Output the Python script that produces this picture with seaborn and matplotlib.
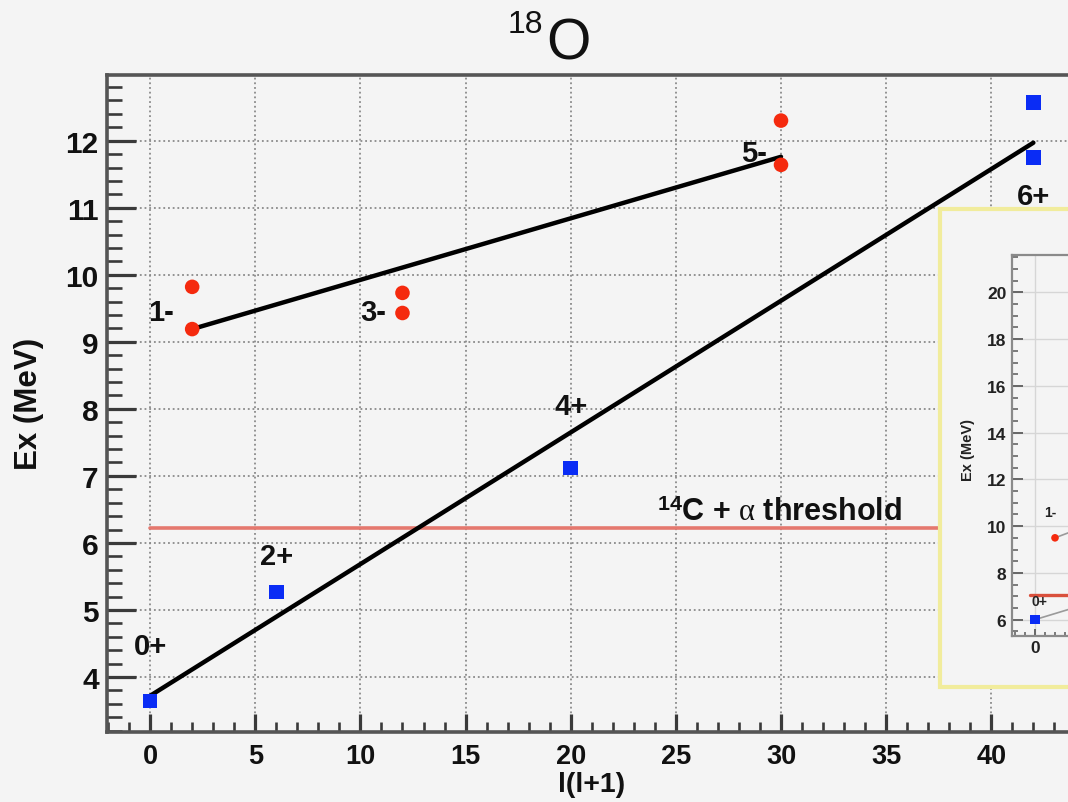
import matplotlib
matplotlib.use("Agg")
import matplotlib.pyplot as plt
from matplotlib.patches import Rectangle
from matplotlib.ticker import MultipleLocator, FixedLocator
import seaborn as sns

# Negative-parity levels of 18O: l(l+1) and excitation energy (MeV)
neg_L = [2, 2, 12, 12, 30, 30]
neg_Ex = [9.82, 9.19, 9.73, 9.43, 12.30, 11.64]

# Positive-parity levels
pos_L = [0, 6, 20, 42, 42]
pos_Ex = [3.64, 5.27, 7.12, 12.57, 11.75]

# Rotational band fits (end points)
neg_band_L = [2, 30]
neg_band_Ex = [9.19, 11.76]
pos_band_L = [0, 42]
pos_band_Ex = [3.72, 11.97]

# 14C + alpha threshold (MeV)
threshold_Ex = 6.23
threshold_L = [0, 46]

# Spin-parity labels
spin_labels = ["0+", "2+", "4+", "6+", "1-", "3-", "5-"]

# Thumbnail of the companion plot
thumb_neg_L = [2]
thumb_neg_Ex = [9.5]
thumb_pos_L = [0]
thumb_pos_Ex = [6.0]
thumb_pos_fit_L = [0, 20]
thumb_pos_fit_Ex = [6.0, 8.6]
thumb_neg_fit_L = [2, 20]
thumb_neg_fit_Ex = [9.5, 12.4]
thumb_threshold_Ex = 7.06
thumb_yticks = [6, 8, 10, 12, 14, 16, 18, 20]

xticks = [0, 5, 10, 15, 20, 25, 30, 35, 40]
yticks = [4, 5, 6, 7, 8, 9, 10, 11, 12]

sns.set_theme(style="ticks")
plt.rcParams["font.family"] = ["Liberation Sans", "DejaVu Sans"]
plt.rcParams["mathtext.fontset"] = "custom"
plt.rcParams["mathtext.rm"] = "Liberation Sans:bold"
plt.rcParams["mathtext.bf"] = "Liberation Sans:bold"
plt.rcParams["mathtext.it"] = "Liberation Serif"

BG = "#f4f4f4"
RED = "#f52a0e"
BLUE = "#0a2cf5"
FRAME = "#555555"

W, H = 1068, 803
fig = plt.figure(figsize=(W / 100, H / 100), dpi=100, facecolor=BG)


def fx(px):
    return px / W


def fy(py):
    return 1 - py / H


# ---------------- main panel ----------------
x0, x1 = -2.05, 46.0
y0, y1 = 3.18, 12.98
ax_left, ax_top, ax_bottom = 107, 76, 733
ax_w = (x1 - x0) * 21.03
ax = fig.add_axes([fx(ax_left), fy(ax_bottom), ax_w / W, (ax_bottom - ax_top) / H])
ax.set_facecolor(BG)
ax.set_xlim(x0, x1)
ax.set_ylim(y0, y1)

ax.grid(True, which="major", linestyle=(0, (1, 1.6)), color="#8a8a8a", linewidth=1.3)
ax.set_axisbelow(True)

ax.axhline(threshold_Ex, xmin=(threshold_L[0] - x0) / (x1 - x0),
           xmax=1, color="#e5786e", linewidth=2.6, zorder=2)

sns.lineplot(x=pos_band_L, y=pos_band_Ex, ax=ax, color="black", linewidth=3.2, zorder=3)
sns.lineplot(x=neg_band_L, y=neg_band_Ex, ax=ax, color="black", linewidth=3.2, zorder=3)

sns.scatterplot(x=neg_L, y=neg_Ex, ax=ax, marker="o", s=110, color=RED,
                edgecolor="none", zorder=4)
sns.scatterplot(x=pos_L, y=pos_Ex, ax=ax, marker="s", s=110, color=BLUE,
                edgecolor="none", zorder=4)

label_pos = [(0, 4.46), (6, 5.81), (20, 8.04), (42, 11.18),
             (0.5, 9.45), (10.6, 9.45), (28.7, 11.82)]
for text, (lx, ly) in zip(spin_labels, label_pos):
    ax.text(lx, ly, text, ha="center", va="center", fontsize=21,
            fontweight="bold", color="#111111", zorder=5)

ax.text(24.1, 6.34, r"$^{14}$C + $\alpha$ threshold", ha="left", va="baseline",
        fontsize=22, fontweight="bold", color="#111111", zorder=5)

ax.xaxis.set_major_locator(FixedLocator(xticks))
ax.xaxis.set_minor_locator(MultipleLocator(1))
ax.yaxis.set_major_locator(FixedLocator(yticks))
ax.yaxis.set_minor_locator(MultipleLocator(0.2))
ax.tick_params(which="both", direction="in", color="#3a3a3a",
               top=False, right=False)
ax.tick_params(axis="y", which="major", length=21, width=2.3, pad=6)
ax.tick_params(axis="y", which="minor", length=11, width=1.9)
ax.tick_params(axis="x", which="major", length=13, width=2.3, pad=8)
ax.tick_params(axis="x", which="minor", length=7, width=1.9)
for lab in ax.get_yticklabels():
    lab.set_fontsize(21.5)
    lab.set_fontweight("bold")
    lab.set_color("#111111")
for lab in ax.get_xticklabels():
    lab.set_fontsize(19.5)
    lab.set_fontweight("bold")
    lab.set_color("#111111")
for side in ["left", "bottom", "top", "right"]:
    ax.spines[side].set_color(FRAME)
    ax.spines[side].set_linewidth(2.6)
ax.set_xlabel("")
ax.set_ylabel("")

fig.text(fx(592), fy(785), "l(l+1)", ha="center", va="center", fontsize=20.5,
         fontweight="bold", color="#111111")
fig.text(fx(29), fy(404), "Ex (MeV)", ha="center", va="center", rotation=90,
         fontsize=22.5, fontweight="bold", color="#111111")

fig.text(fx(546), fy(59), "O", ha="left", va="baseline", fontsize=41,
         color="#111111")
fig.text(fx(543), fy(33), "18", ha="right", va="baseline", fontsize=23,
         color="#111111")

# ---------------- thumbnail of the companion plot ----------------
frame = Rectangle((fx(940), fy(688)), fx(1140 - 940), (688 - 210) / H,
                  transform=fig.transFigure, facecolor=BG,
                  edgecolor="#f1ec9c", linewidth=3, zorder=1)
fig.add_artist(frame)

ix0, ix1 = -2.3, 20.0
iy0, iy1 = 5.3, 21.6
in_left, in_top, in_bottom = 1012, 256, 637
in_w = (ix1 - ix0) * 10.0
ins = fig.add_axes([fx(in_left), fy(in_bottom), in_w / W, (in_bottom - in_top) / H],
                   zorder=2)
ins.set_facecolor(BG)
ins.set_xlim(ix0, ix1)
ins.set_ylim(iy0, iy1)
ins.grid(True, which="major", color="#d6d6d6", linewidth=1.0)
ins.set_axisbelow(True)

ins.axhline(thumb_threshold_Ex, xmin=(-0.5 - ix0) / (ix1 - ix0), xmax=1,
            color="#d9503c", linewidth=2.4, zorder=2)
sns.lineplot(x=thumb_pos_fit_L, y=thumb_pos_fit_Ex, ax=ins, color="#9a9a9a",
             linewidth=1.2, zorder=3)
sns.lineplot(x=thumb_neg_fit_L, y=thumb_neg_fit_Ex, ax=ins, color="#9a9a9a",
             linewidth=1.2, zorder=3)
sns.scatterplot(x=thumb_neg_L, y=thumb_neg_Ex, ax=ins, marker="o", s=30,
                color=RED, edgecolor="none", zorder=4)
sns.scatterplot(x=thumb_pos_L, y=thumb_pos_Ex, ax=ins, marker="s", s=45,
                color=BLUE, edgecolor="none", zorder=4)
ins.text(0.5, 6.8, "0+", ha="center", va="center", fontsize=10,
         fontweight="bold", color="#222222")
ins.text(1.5, 10.6, "1-", ha="center", va="center", fontsize=10,
         fontweight="bold", color="#222222")

ins.xaxis.set_major_locator(FixedLocator([0]))
ins.xaxis.set_minor_locator(MultipleLocator(1))
ins.yaxis.set_major_locator(FixedLocator(thumb_yticks))
ins.yaxis.set_minor_locator(MultipleLocator(0.5))
ins.tick_params(which="both", direction="in", color="#666666", top=False, right=False)
ins.tick_params(axis="y", which="major", length=8, width=1.4, pad=4)
ins.tick_params(axis="y", which="minor", length=4, width=1.2)
ins.tick_params(axis="x", which="major", length=5, width=1.4, pad=3)
ins.tick_params(axis="x", which="minor", length=3, width=1.2)
for lab in ins.get_xticklabels() + ins.get_yticklabels():
    lab.set_fontsize(12.5)
    lab.set_fontweight("bold")
    lab.set_color("#222222")
for side in ["left", "bottom", "top", "right"]:
    ins.spines[side].set_color("#8a8a8a")
    ins.spines[side].set_linewidth(1.6)
ins.set_xlabel("")
ins.set_ylabel("")
fig.text(fx(968), fy(450), "Ex (MeV)", ha="center", va="center", rotation=90,
         fontsize=10.5, fontweight="bold", color="#222222", zorder=3)

fig.savefig("out.png", dpi=100, facecolor=BG)
